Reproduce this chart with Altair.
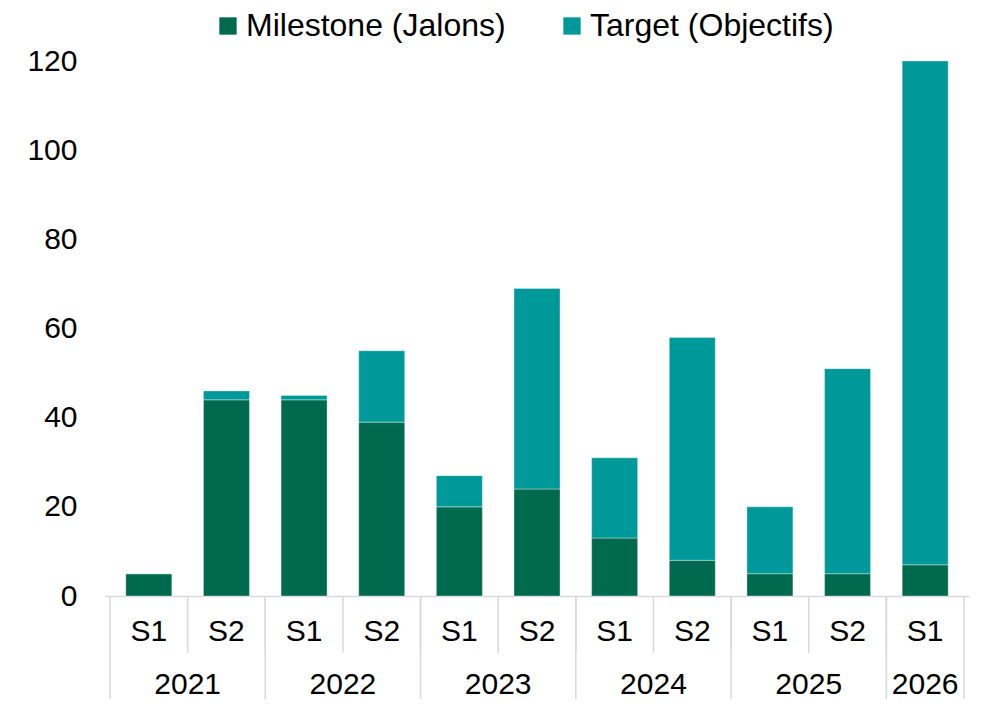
import altair as alt
import pandas as pd

halves = ["S1", "S2", "S1", "S2", "S1", "S2", "S1", "S2", "S1", "S2", "S1"]
years = ["2021", "2022", "2023", "2024", "2025", "2026"]
year_span = [2, 2, 2, 2, 2, 1]
milestone = [5, 44, 44, 39, 20, 24, 13, 8, 5, 5, 7]
target = [0, 2, 1, 16, 7, 45, 18, 50, 15, 46, 113]
series = ["Milestone (Jalons)", "Target (Objectifs)"]
colors = ["#006a4e", "#009999"]
y_ticks = [0, 20, 40, 60, 80, 100, 120]

rows = []
for i in range(len(halves)):
    rows.append({"pos": i + 0.5, "series": series[0], "ord": 0, "value": milestone[i]})
    rows.append({"pos": i + 0.5, "series": series[1], "ord": 1, "value": target[i]})
bars_df = pd.DataFrame(rows)

half_df = pd.DataFrame({"pos": [i + 0.5 for i in range(len(halves))], "label": halves})

starts = []
s = 0
for span in year_span:
    starts.append(s)
    s += span
year_df = pd.DataFrame({
    "pos": [st + sp / 2 for st, sp in zip(starts, year_span)],
    "label": years,
})
short_sep = pd.DataFrame({"b": list(range(1, len(halves)))})
long_sep = pd.DataFrame({"b": starts + [len(halves)]})

FONT = "Liberation Sans"
xscale = alt.Scale(domain=[0, len(halves)], nice=False, zero=False)

bars = alt.Chart(bars_df).mark_bar(size=46, stroke="#ffffff", strokeOpacity=0.35, strokeWidth=1).encode(
    x=alt.X("pos:Q", scale=xscale,
            axis=alt.Axis(labels=False, ticks=False, grid=False, title=None,
                          domainColor="#d9d9d9", domainWidth=1.5)),
    y=alt.Y("value:Q", stack="zero",
            scale=alt.Scale(domain=[0, 120], nice=False),
            axis=alt.Axis(values=y_ticks, grid=False, domain=False, ticks=False,
                          labelFont=FONT, labelFontSize=30, labelColor="#000000",
                          labelPadding=28, title=None)),
    color=alt.Color("series:N", scale=alt.Scale(domain=series, range=colors),
                    legend=alt.Legend(title=None, orient="none", direction="horizontal",
                                      legendX=107, legendY=-51, padding=0,
                                      symbolType="square", symbolSize=300,
                                      symbolStrokeWidth=0,
                                      labelFont=FONT, labelFontSize=32,
                                      labelColor="#000000", labelOffset=2,
                                      columnPadding=50, labelLimit=400)),
    order=alt.Order("ord:Q"),
)

half_text = alt.Chart(half_df).mark_text(font=FONT, fontSize=30, color="#000000", baseline="middle").encode(
    x=alt.X("pos:Q", scale=xscale), y=alt.value(571), text="label:N")

year_text = alt.Chart(year_df).mark_text(font=FONT, fontSize=30, color="#000000", baseline="middle").encode(
    x=alt.X("pos:Q", scale=xscale), y=alt.value(624), text="label:N")

short_rules = alt.Chart(short_sep).mark_rule(color="#d9d9d9", strokeWidth=1.5).encode(
    x=alt.X("b:Q", scale=xscale), y=alt.value(535), y2=alt.value(592))

long_rules = alt.Chart(long_sep).mark_rule(color="#d9d9d9", strokeWidth=1.5).encode(
    x=alt.X("b:Q", scale=xscale), y=alt.value(535), y2=alt.value(660))

chart = alt.layer(bars, short_rules, long_rules, half_text, year_text).properties(
    width=864, height=535,
    autosize=alt.AutoSizeParams(type="none"),
    padding={"left": 97, "top": 53, "right": 7, "bottom": 103},
).configure_view(stroke=None)

chart.save("out.html", embed_options={"renderer": "svg", "actions": False})
